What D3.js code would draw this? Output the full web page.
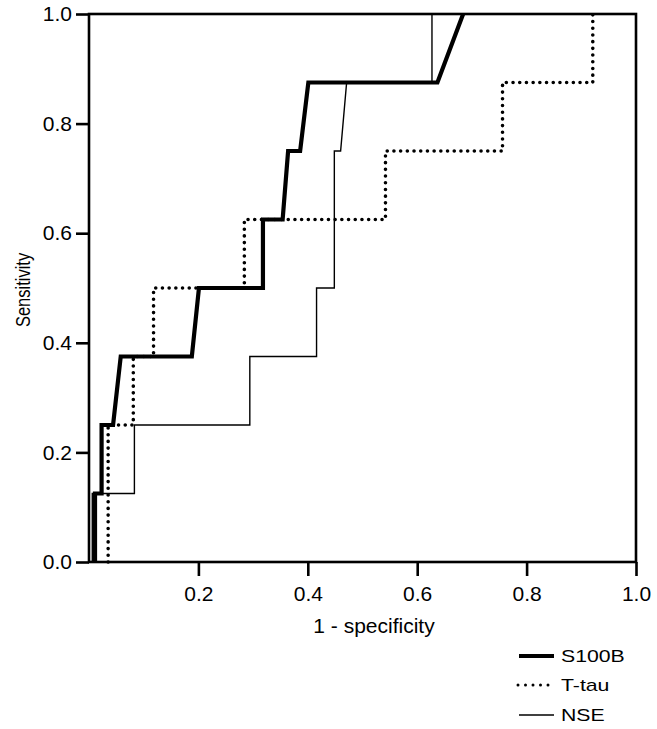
<!DOCTYPE html>
<html>
<head>
<meta charset="utf-8">
<script src="https://cdn.jsdelivr.net/npm/d3@7"></script>
<style>
  html, body { margin: 0; padding: 0; background: #ffffff; }
  svg { display: block; }
  text { font-family: "Liberation Sans", Arial, Helvetica, sans-serif; fill: #000; }
</style>
</head>
<body>
<svg id="chart" width="657" height="729"></svg>
<script>
// ---- Data ----
const xTickValues = [0.2, 0.4, 0.6, 0.8, 1.0];
const yTickValues = [0.0, 0.2, 0.4, 0.6, 0.8, 1.0];
const xLabel = "1 - specificity";
const yLabel = "Sensitivity";
const seriesNames = ["S100B", "T-tau", "NSE"];

const s100bFpr = [0.011, 0.011, 0.023, 0.023, 0.044, 0.058, 0.188, 0.201, 0.318, 0.318, 0.354, 0.364, 0.386, 0.401, 0.637, 0.684];
const s100bTpr = [0.0, 0.125, 0.125, 0.25, 0.25, 0.375, 0.375, 0.5, 0.5, 0.625, 0.625, 0.75, 0.75, 0.875, 0.875, 1.0];

const ttauFpr = [0.035, 0.035, 0.081, 0.081, 0.118, 0.118, 0.284, 0.284, 0.542, 0.542, 0.756, 0.756, 0.921, 0.921];
const ttauTpr = [0.0, 0.25, 0.25, 0.375, 0.375, 0.5, 0.5, 0.625, 0.625, 0.75, 0.75, 0.875, 0.875, 1.0];

const nseFpr = [0.006, 0.006, 0.083, 0.083, 0.294, 0.294, 0.416, 0.416, 0.4485, 0.4485, 0.46, 0.471, 0.627, 0.627];
const nseTpr = [0.0, 0.125, 0.125, 0.25, 0.25, 0.375, 0.375, 0.5, 0.5, 0.75, 0.75, 0.875, 0.875, 1.0];

// ---- Layout ----
const svg = d3.select("#chart");
const plotLeft = 89, plotRight = 636, plotTop = 14, plotBottom = 562;

const x = d3.scaleLinear().domain([0, 1]).range([plotLeft, plotRight]);
const y = d3.scaleLinear().domain([0, 1]).range([plotBottom, plotTop]);

const styles = [
  { width: 4.2, dash: null, cap: "butt" },
  { width: 3.6, dash: "0 6.7", cap: "round" },
  { width: 1.4, dash: null, cap: "butt" }
];
const seriesData = [
  d3.zip(s100bFpr, s100bTpr),
  d3.zip(ttauFpr, ttauTpr),
  d3.zip(nseFpr, nseTpr)
];

const line = d3.line().x(d => x(d[0])).y(d => y(d[1]));

// curves (draw thin first, thick last)
const order = [2, 1, 0];
order.forEach(i => {
  svg.append("path")
    .datum(seriesData[i])
    .attr("d", line)
    .attr("fill", "none")
    .attr("stroke", "#000")
    .attr("stroke-width", styles[i].width)
    .attr("stroke-linecap", styles[i].cap)
    .attr("stroke-linejoin", "miter")
    .attr("stroke-dasharray", styles[i].dash);
});

// frame
svg.append("rect")
  .attr("x", x(0)).attr("y", y(1))
  .attr("width", x(1) - x(0)).attr("height", y(0) - y(1))
  .attr("fill", "none").attr("stroke", "#000").attr("stroke-width", 2.6);

// axes
const xAxis = d3.axisBottom(x).tickValues(xTickValues).tickFormat(d3.format(".1f"))
  .tickSize(14).tickSizeOuter(0).tickPadding(10);
const gx = svg.append("g").attr("transform", `translate(0,${plotBottom})`).call(xAxis);
gx.select(".domain").remove();
gx.selectAll(".tick line").attr("stroke", "#000").attr("stroke-width", 2.6);
gx.selectAll(".tick text").style("font-size", "21px")
  .style("font-family", "'Liberation Sans', Arial, sans-serif").attr("fill", "#000");

const yAxis = d3.axisLeft(y).tickValues(yTickValues).tickFormat(d3.format(".1f"))
  .tickSize(13).tickSizeOuter(0).tickPadding(4);
const gy = svg.append("g").attr("transform", `translate(${plotLeft},0)`).call(yAxis);
gy.select(".domain").remove();
gy.selectAll(".tick line").attr("stroke", "#000").attr("stroke-width", 2.6);
gy.selectAll(".tick text").style("font-size", "21px")
  .style("font-family", "'Liberation Sans', Arial, sans-serif").attr("fill", "#000");

// axis labels
svg.append("text")
  .attr("x", 374).attr("y", 633)
  .attr("text-anchor", "middle")
  .style("font-size", "21px")
  .text(xLabel);

svg.append("text")
  .attr("transform", "translate(23,290) rotate(-90) scale(1,1.2)")
  .attr("text-anchor", "middle")
  .attr("dominant-baseline", "central")
  .style("font-size", "16.5px")
  .text(yLabel);

// legend
const legendY = [656, 685, 715];
seriesNames.forEach((name, i) => {
  const g = svg.append("g");
  g.append("line")
    .attr("x1", i === 1 ? 518 : 519).attr("x2", i === 1 ? 550 : 554)
    .attr("y1", legendY[i]).attr("y2", legendY[i])
    .attr("stroke", "#000")
    .attr("stroke-width", i === 0 ? 4 : (i === 1 ? 3 : 1.4))
    .attr("stroke-linecap", i === 1 ? "round" : "butt")
    .attr("stroke-dasharray", i === 1 ? "0 7.5" : null);
  g.append("text")
    .attr("transform", `translate(561,${legendY[i] + 6}) scale(1.25,1)`)
    .style("font-size", "17px")
    .text(name);
});
</script>
</body>
</html>
